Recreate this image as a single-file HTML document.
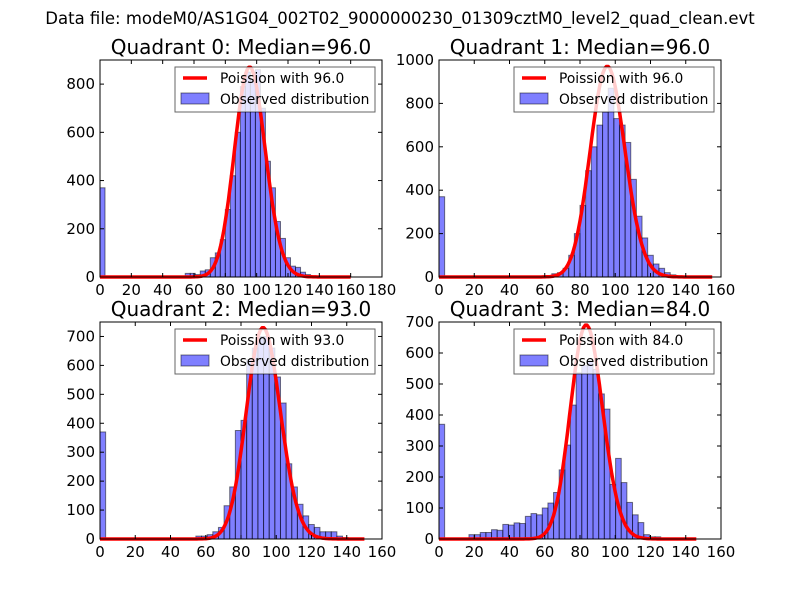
<!DOCTYPE html>
<html><head><meta charset="utf-8"><style>
body{margin:0;background:#fff}
svg text{font-family:"DejaVu Sans","Liberation Sans",sans-serif}
</style></head><body>
<svg id="c" width="800" height="600" viewBox="0 0 800 600">
<rect width="800" height="600" fill="#fff"/>
<text x="400" y="24" font-size="16.5" text-anchor="middle">Data file: modeM0/AS1G04_002T02_9000000230_01309cztM0_level2_quad_clean.evt</text>
</svg>
<script>
const binWidth = 3.2;
const q0Start = 54.4;
const q0Counts = [15,15,10,25,30,80,100,155,280,420,600,790,850,820,860,700,480,370,230,160,80,45,40,20,10,5];
const q1Start = 64;
const q1Counts = [15,20,40,100,200,330,490,600,700,760,870,730,700,620,450,280,180,100,60,40,20,10,5];
const q2Start = 54.4;
const q2Counts = [10,10,15,25,40,115,180,375,410,620,660,700,700,660,560,470,260,180,120,80,50,40,25,25,25,10,5];
const q3Start = 17;
const q3Counts = [14,14,21,21,30,28,47,45,52,50,73,82,78,100,116,150,223,303,432,536,560,575,547,468,419,176,260,182,118,78,53,14,7,7];
const zeroBin = [370,370,370,370];
const medians = [96.0,96.0,93.0,84.0];
const peaks = [870,970,730,690];
const curveEnd = [160,155,150,146];
const xMax = [180,160,160,160];
const yMax = [900,1000,750,700];
const yStep = [200,200,100,100];

const svg = document.getElementById('c');
const NS = 'http://www.w3.org/2000/svg';
function mk(tag, attrs, parent){const e=document.createElementNS(NS,tag);for(const k in attrs)e.setAttribute(k,attrs[k]);(parent||svg).appendChild(e);return e;}

const boxes = [[100,60,382,277],[439,60,721,277],[100,322,382,539],[439,322,721,539]];
const starts=[q0Start,q1Start,q2Start,q3Start];
const counts=[q0Counts,q1Counts,q2Counts,q3Counts];

function lnFact(k){let s=0;for(let i=2;i<=k;i++)s+=Math.log(i);return s;}

for(let q=0;q<4;q++){
  const [L,T,R,B]=boxes[q];
  const g=mk('g',{});
  
  
  const sx=v=>L+(v/xMax[q])*(R-L);
  const sy=v=>B-(v/yMax[q])*(B-T);
  const drawBar=(x0,c,i)=>{
    const r=mk('rect',{x:sx(x0),y:sy(c),width:sx(x0+binWidth)-sx(x0),height:B-sy(c),fill:'rgba(0,0,255,0.5)',stroke:'#000','stroke-opacity':0.5,'stroke-width':1},g);
    
    
  };
  drawBar(0,zeroBin[q],'zero');
  counts[q].forEach((c,i)=>drawBar(starts[q]+i*binWidth,c,i));
  const lam=medians[q];
  const pk=Math.exp(Math.round(lam)*Math.log(lam)-lam-lnFact(Math.round(lam)));
  let d='';
  for(let k=0;k<=curveEnd[q];k++){
    const p=Math.exp(k*Math.log(lam||1)-lam-lnFact(k))/pk*peaks[q];
    d+=(k?'L':'M')+sx(k).toFixed(1)+','+sy(p).toFixed(1);
  }
  const path=mk('path',{d:d,fill:'none',stroke:'#ff0000','stroke-width':3.5,'stroke-linejoin':'round'},g);
  
  
  const fr=mk('rect',{x:L,y:T,width:R-L,height:B-T,fill:'none',stroke:'#000','stroke-width':1},g);
  
  
  for(let v=0;v<=xMax[q];v+=20){
    const x=sx(v);
    mk('line',{x1:x,y1:B,x2:x,y2:B-4,stroke:'#000'},g);
    mk('line',{x1:x,y1:T,x2:x,y2:T+4,stroke:'#000'},g);
    const t=mk('text',{x:x,y:B+18,'font-size':15,'text-anchor':'middle'},g);
    t.textContent=v;
    
    
  }
  for(let v=0;v<=yMax[q];v+=yStep[q]){
    const y=sy(v);
    mk('line',{x1:L,y1:y,x2:L+4,y2:y,stroke:'#000'},g);
    mk('line',{x1:R,y1:y,x2:R-4,y2:y,stroke:'#000'},g);
    const t=mk('text',{x:L-5,y:y+5,'font-size':15,'text-anchor':'end'},g);
    t.textContent=v;
    
    
  }
  const ti=mk('text',{x:(L+R)/2,y:T-6,'font-size':20,'text-anchor':'middle'},g);
  ti.textContent='Quadrant '+q+': Median='+medians[q].toFixed(1);
  
  
  const lg=mk('g',{},g);
  
  
  const lx=R-207, ly=T+7;
  mk('rect',{x:lx,y:ly,width:200,height:45,fill:'rgba(255,255,255,0.8)',stroke:'#000','stroke-opacity':0.6},lg);
  mk('line',{x1:lx+8,y1:ly+11,x2:lx+32,y2:ly+11,stroke:'#ff0000','stroke-width':3.5},lg);
  const t1=mk('text',{x:lx+45,y:ly+16,'font-size':13.8},lg);
  t1.textContent='Poission with '+medians[q].toFixed(1);
  
  
  mk('rect',{x:lx+6,y:ly+26,width:28,height:11,fill:'rgba(0,0,255,0.5)',stroke:'#000','stroke-opacity':0.5},lg);
  const t2=mk('text',{x:lx+45,y:ly+37,'font-size':13.8},lg);
  t2.textContent='Observed distribution';
  
  
}
</script>
</body></html>
